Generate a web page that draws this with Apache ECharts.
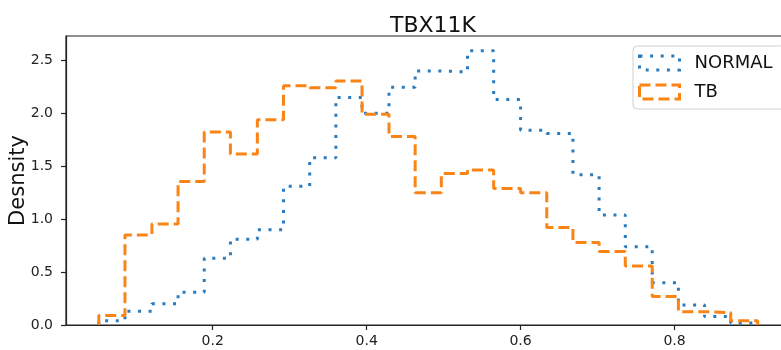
<!DOCTYPE html>
<html>
<head>
<meta charset="utf-8">
<script src="https://cdn.jsdelivr.net/npm/echarts@6/dist/echarts.min.js"></script>
<style>
  html, body { margin: 0; padding: 0; background: #fff; }
  #chart { width: 781px; height: 350px; }
</style>
</head>
<body>
<div id="chart"></div>
<script>
// Shared histogram bin edges (25 bins)
const binEdges = [0.052, 0.086, 0.121, 0.155, 0.189, 0.223, 0.258, 0.292, 0.326,
  0.360, 0.394, 0.429, 0.463, 0.497, 0.531, 0.565, 0.600, 0.634, 0.668, 0.702,
  0.736, 0.771, 0.805, 0.839, 0.873, 0.908];

// Density per bin
const normalDensity = [0.04, 0.13, 0.20, 0.31, 0.63, 0.81, 0.90, 1.31, 1.58, 2.15,
  2.00, 2.245, 2.40, 2.39, 2.59, 2.13, 1.84, 1.81, 1.42, 1.04, 0.74, 0.40, 0.19,
  0.08, 0.02];
const tbDensity = [0.09, 0.85, 0.955, 1.356, 1.823, 1.615, 1.94, 2.26, 2.24, 2.305,
  1.99, 1.78, 1.25, 1.43, 1.465, 1.29, 1.25, 0.92, 0.78, 0.695, 0.558, 0.27, 0.126,
  0.117, 0.04];

const xTicks = [0.2, 0.4, 0.6, 0.8];
const yTicks = [0, 0.5, 1.0, 1.5, 2.0, 2.5];

const seriesNames = ['NORMAL', 'TB'];
const titleText = 'TBX11K';
const yAxisTitle = 'Desnsity';

// Outline of a step histogram: up from the first edge, across each bin, down at the last edge
function stepOutline(edges, heights) {
  const pts = [[edges[0], 0]];
  for (let i = 0; i < heights.length; i++) {
    pts.push([edges[i], heights[i]]);
    pts.push([edges[i + 1], heights[i]]);
  }
  pts.push([edges[edges.length - 1], 0]);
  return pts;
}

const FONT = 'DejaVu Sans';
const BLUE = '#2a7bbd';
const ORANGE = '#fa8416';
const AXIS = '#222';

const chart = echarts.init(document.getElementById('chart'), null, { renderer: 'canvas' });
chart.setOption({
  animation: false,
  backgroundColor: '#fff',
  title: {
    text: titleText,
    left: 428,
    textAlign: 'center',
    top: 10,
    textStyle: { fontFamily: FONT, fontSize: 22, fontWeight: 'normal', color: '#111' }
  },
  grid: {
    left: 66, top: 36, width: 724, height: 289,
    containLabel: false,
    outerBoundsMode: 'none',
    show: true, borderColor: AXIS, borderWidth: 1.2, backgroundColor: 'transparent'
  },
  legend: {
    orient: 'vertical',
    left: 633, top: 46,
    padding: [8, 12, 8, 5],
    itemWidth: 40, itemHeight: 14, itemGap: 11,
    backgroundColor: '#fff',
    borderColor: '#d0d0d0', borderWidth: 1, borderRadius: 4,
    selectedMode: false,
    textStyle: { fontFamily: FONT, fontSize: 18, color: '#111', padding: [0, 0, 0, 10] },
    data: [
      { name: seriesNames[0], icon: 'rect',
        itemStyle: { color: 'rgba(0,0,0,0)', borderColor: BLUE, borderWidth: 3, borderType: [3, 7.6] } },
      { name: seriesNames[1], icon: 'rect',
        itemStyle: { color: 'rgba(0,0,0,0)', borderColor: ORANGE, borderWidth: 3, borderType: [11, 5] } }
    ]
  },
  xAxis: {
    type: 'value',
    min: 0.0094, max: 0.950,
    splitLine: { show: false },
    axisLine: { show: true, onZero: false, lineStyle: { color: AXIS, width: 1.2 } },
    axisTick: { show: true, inside: false, length: 5, customValues: xTicks, lineStyle: { color: AXIS, width: 1.2 } },
    axisLabel: {
      customValues: xTicks, margin: 9,
      fontFamily: FONT, fontSize: 14, color: '#222',
      formatter: v => v.toFixed(1)
    }
  },
  yAxis: {
    type: 'value',
    min: 0, max: 2.73,
    name: yAxisTitle,
    nameLocation: 'middle',
    nameRotate: 90,
    nameGap: 37,
    nameMoveOverlap: false,
    nameTextStyle: { fontFamily: FONT, fontSize: 21, color: '#111' },
    splitLine: { show: false },
    axisLine: { show: true, lineStyle: { color: AXIS, width: 1.2 } },
    axisTick: { show: true, inside: false, length: 5, customValues: yTicks, lineStyle: { color: AXIS, width: 1.2 } },
    axisLabel: {
      customValues: yTicks, margin: 13,
      fontFamily: FONT, fontSize: 14, color: '#222',
      formatter: v => v.toFixed(1)
    }
  },
  series: [
    {
      name: seriesNames[0], type: 'line',
      data: stepOutline(binEdges, normalDensity),
      showSymbol: false, symbol: 'none',
      color: BLUE,
      lineStyle: { color: BLUE, width: 3, type: [3, 7.6], cap: 'butt' },
      z: 2
    },
    {
      name: seriesNames[1], type: 'line',
      data: stepOutline(binEdges, tbDensity),
      showSymbol: false, symbol: 'none',
      color: ORANGE,
      lineStyle: { color: ORANGE, width: 3, type: [11, 5], cap: 'butt' },
      z: 3
    }
  ]
});
</script>
</body>
</html>
